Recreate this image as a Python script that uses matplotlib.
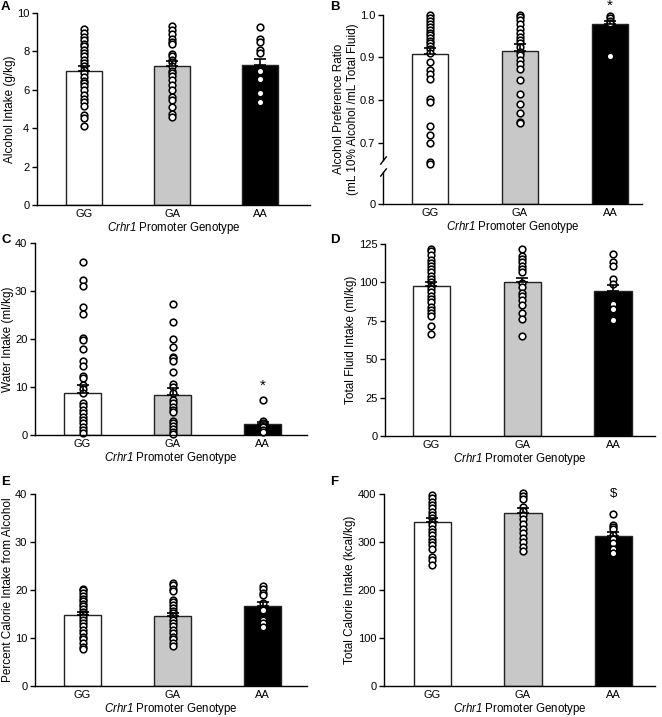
import numpy as np
import matplotlib
matplotlib.use("Agg")
import matplotlib.pyplot as plt

plt.rcParams['font.family'] = ['Liberation Sans', 'DejaVu Sans']
plt.rcParams['mathtext.fontset'] = 'custom'
# math part is only the italic gene name, so digits go italic too
plt.rcParams['mathtext.rm'] = 'Liberation Sans:italic'
plt.rcParams['mathtext.it'] = 'Liberation Sans:italic'

genotypes = ["GG", "GA", "AA"]
bar_colors = ["white", "#c8c8c8", "black"]
xlabel = r"$\it{Crhr1}$ Promoter Genotype"

# A - alcohol intake (g/kg)
alc_gg = [9.17, 8.96, 8.75, 8.57, 8.4, 8.26, 8.09, 7.91, 7.74, 7.57, 7.39, 7.22, 7.04,
          6.87, 6.66, 6.45, 6.35, 6.21, 6.0, 5.74, 5.51, 5.39, 5.17, 4.7, 4.52, 4.09]
alc_ga = [9.3, 9.1, 8.9, 8.66, 8.49, 8.38, 7.88, 7.74, 7.57, 7.44, 7.22, 7.0, 6.9,
          6.73, 6.52, 6.26, 6.0, 5.65, 5.48, 5.1, 4.73, 4.57]
alc_aa = [9.25, 8.66, 8.47, 8.05, 7.91, 6.96, 6.57, 5.83, 5.39]
alc_mean = [7.0, 7.25, 7.27]
alc_sem = [0.22, 0.26, 0.36]

# B - alcohol preference ratio
pref_gg = [0.998, 0.992, 0.985, 0.978, 0.971, 0.965, 0.958, 0.953, 0.946, 0.939, 0.933,
           0.926, 0.92, 0.909, 0.889, 0.871, 0.86, 0.848, 0.803, 0.795, 0.738, 0.717,
           0.699, 0.655, 0.65]
pref_ga = [1.0, 0.995, 0.987, 0.977, 0.966, 0.958, 0.948, 0.941, 0.934, 0.924, 0.912,
           0.905, 0.893, 0.884, 0.873, 0.846, 0.815, 0.791, 0.77, 0.748, 0.745]
pref_aa = [0.997, 0.991, 0.985, 0.98, 0.902]
pref_mean = [0.907, 0.915, 0.977]
pref_sem = [0.015, 0.015, 0.008]

# C - water intake (ml/kg)
water_gg = [36.0, 32.2, 31.0, 26.6, 25.3, 20.2, 19.7, 17.9, 15.4, 14.4, 12.3, 11.8,
            10.4, 9.5, 8.7, 6.6, 6.1, 5.2, 4.5, 3.8, 3.1, 2.4, 1.7, 1.0, 0.5]
water_ga = [27.3, 23.6, 20.0, 18.3, 16.3, 16.0, 15.5, 13.2, 10.6, 10.1, 8.7, 7.3, 6.6,
            5.9, 5.2, 4.7, 3.0, 2.4, 1.9, 1.3, 0.7, 0.2]
water_aa = [7.3, 2.9, 2.4, 1.7, 1.0, 0.7]
water_mean = [8.8, 8.3, 2.2]
water_sem = [1.6, 1.5, 0.6]

# D - total fluid intake (ml/kg)
fluid_gg = [122, 120.2, 118, 114.8, 112.6, 110.4, 108.7, 106.5, 104.3, 102.2, 100,
            97.8, 95.7, 93.5, 91.3, 89.1, 87, 84.3, 82.2, 80, 77.8, 71.3, 66.3]
fluid_ga = [122, 117, 115.2, 113, 110.9, 108.7, 106.5, 99.6, 97, 93, 91.3, 88.3, 85.4,
            80, 76.1, 64.8]
fluid_aa = [118.7, 113, 110.9, 102.2, 98.9, 86.1, 82.8, 75.7]
fluid_mean = [97.4, 100.0, 94.1]
fluid_sem = [2.6, 2.6, 4.4]

# E - percent calorie intake from alcohol
pct_gg = [20.3, 19.9, 19.3, 18.8, 18.2, 17.7, 17.1, 16.6, 16.0, 15.4, 14.9, 14.3, 13.8,
          13.1, 12.4, 11.7, 11.0, 10.3, 9.7, 9.0, 8.1, 7.7]
pct_ga = [21.5, 21.0, 20.3, 19.7, 17.9, 17.4, 16.8, 16.3, 15.7, 15.2, 14.5, 13.8, 13.1,
          12.4, 11.7, 11.0, 10.3, 9.7, 9.0, 8.4]
pct_aa = [20.9, 20.3, 19.4, 19.0, 17.2, 15.9, 13.8, 13.2, 12.2]
pct_mean = [14.8, 14.5, 16.6]
pct_sem = [0.6, 0.7, 0.8]

# F - total calorie intake (kcal/kg)
kcal_gg = [398, 391, 384, 377, 370, 363, 356, 349, 342, 335, 328, 321, 314, 307, 300,
           293, 286, 269, 262, 253]
kcal_ga = [403, 396, 389, 372, 365, 356, 347, 337, 328, 319, 309, 300, 290, 281]
kcal_aa = [359, 336, 331, 327, 314, 307, 297, 286, 277]
kcal_mean = [342, 361, 313]
kcal_sem = [7, 9, 7]

W, H = 662, 717
fig = plt.figure(figsize=(W / 100, H / 100), dpi=100)


def make_axes(left, right, top, bottom):
    return fig.add_axes([left / W, 1 - bottom / H, (right - left) / W, (bottom - top) / H])


def draw_panel(ax, letter, lxy, groups, means, sems, ylim, yticks, ylabel, xlim, ylabels=None):
    x = np.arange(3)
    ax.bar(x, means, width=0.41, color=bar_colors, edgecolor="#222222", linewidth=1.0, zorder=1)
    for i, pts in enumerate(groups):
        ax.plot(np.full(len(pts), i), pts, "o", mfc="white", mec="black", ms=4.8, mew=1.15,
                zorder=2, clip_on=False)
    ax.errorbar(x, means, yerr=[np.zeros(3), sems], fmt="none", ecolor="black",
                elinewidth=1.2, capsize=4.3, capthick=1.2, zorder=3)
    ax.set_xlim(*xlim)
    ax.set_ylim(*ylim)
    ax.set_yticks(yticks)
    if ylabels is not None:
        ax.set_yticklabels(ylabels)
    ax.set_xticks(x)
    ax.set_xticklabels(genotypes)
    ax.tick_params(axis="x", length=0, pad=3, labelsize=8)
    ax.tick_params(axis="y", length=3.5, width=1, pad=2, labelsize=8)
    ax.spines["top"].set_visible(False)
    ax.spines["right"].set_visible(False)
    ax.spines["left"].set_linewidth(1)
    ax.spines["bottom"].set_linewidth(1)
    ax.set_ylabel(ylabel, fontsize=8.5, labelpad=1)
    ax.set_xlabel(xlabel, fontsize=8.3, labelpad=0.5)
    fig.text(lxy[0] / W, 1 - lxy[1] / H, letter, fontsize=9.5, fontweight="bold",
             ha="left", va="top")


# A
axA = make_axes(37, 310, 13, 205)
draw_panel(axA, "A", (1, 1), [alc_gg, alc_ga, alc_aa], alc_mean, alc_sem, (0, 10),
           [0, 2, 4, 6, 8, 10], "Alcohol Intake (g/kg)", (-0.534, 2.568))

# B with broken y axis
brk_hi, brk_lo = 0.63, 0.556


def fwd(v):
    v = np.asarray(v, dtype=float)
    return np.where(v >= brk_hi, v, brk_lo + v * (brk_hi - brk_lo) / brk_hi)


def inv(u):
    u = np.asarray(u, dtype=float)
    return np.where(u >= brk_hi, u, (u - brk_lo) * brk_hi / (brk_hi - brk_lo))


axB = make_axes(383, 642, 14.6, 204)
axB.set_yscale("function", functions=(fwd, inv))
draw_panel(axB, "B", (330, 1), [pref_gg, pref_ga, pref_aa], pref_mean, pref_sem, (0, 1.0),
           [0, 0.7, 0.8, 0.9, 1.0], "Alcohol Preference Ratio\n(mL 10% Alcohol /mL Total Fluid)",
           (-0.522, 2.356), ylabels=["0", "0.7", "0.8", "0.9", "1.0"])
axB.spines["left"].set_bounds(0.658, 1.0)
axB.plot([0, 0], [0, brk_hi], color="black", lw=1, transform=axB.get_yaxis_transform(),
         clip_on=False)
axB.plot([0, 0], [0.658, brk_hi], ls="none", marker=[(-1, -1.3), (1, 1.3)], ms=6,
         mec="black", mew=1, transform=axB.get_yaxis_transform(), clip_on=False)
axB.text(2, 1.02, "*", ha="center", va="center", fontsize=11)

# C
axC = make_axes(35, 307, 243, 435)
draw_panel(axC, "C", (1, 234), [water_gg, water_ga, water_aa], water_mean, water_sem,
           (0, 40), [0, 10, 20, 30, 40], "Water Intake (ml/kg)", (-0.528, 2.494))
axC.text(2, 10.2, "*", ha="center", va="center", fontsize=11)

# D
axD = make_axes(385, 655, 244, 436)
draw_panel(axD, "D", (330, 234), [fluid_gg, fluid_ga, fluid_aa], fluid_mean, fluid_sem,
           (0, 125), [0, 25, 50, 75, 100, 125], "Total Fluid Intake (ml/kg)", (-0.512, 2.463))

# E
axE = make_axes(35, 307, 494, 686)
draw_panel(axE, "E", (1, 476), [pct_gg, pct_ga, pct_aa], pct_mean, pct_sem,
           (0, 40), [0, 10, 20, 30, 40], "Percent Calorie Intake from Alcohol", (-0.528, 2.494))

# F
axF = make_axes(384, 655, 494, 686)
draw_panel(axF, "F", (330, 476), [kcal_gg, kcal_ga, kcal_aa], kcal_mean, kcal_sem,
           (0, 400), [0, 100, 200, 300, 400], "Total Calorie Intake (kcal/kg)", (-0.536, 2.459))
axF.text(2, 400, "$", ha="center", va="center", fontsize=9.5)

fig.savefig("out.png", dpi=100)
